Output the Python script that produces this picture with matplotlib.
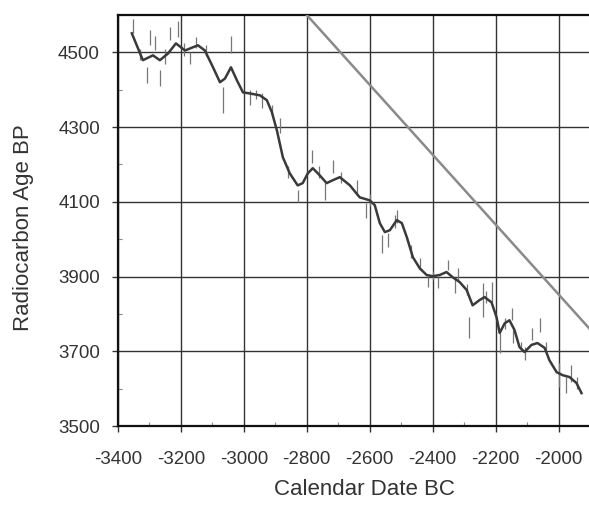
import matplotlib
matplotlib.use("Agg")
import matplotlib.pyplot as plt
from matplotlib.ticker import MultipleLocator

plt.rcParams['font.family'] = ['Liberation Sans', 'DejaVu Sans']

# Calibration curve (calendar year BC as negative, radiocarbon age BP)
curve_x = [-3356, -3321, -3289, -3267, -3241, -3216, -3187, -3146, -3124, -3098,
           -3076, -3060, -3041, -3022, -3003, -2981, -2949, -2927, -2911, -2895,
           -2876, -2854, -2829, -2813, -2797, -2781, -2759, -2737, -2717, -2695,
           -2663, -2632, -2600, -2584, -2568, -2552, -2536, -2514, -2498, -2482,
           -2463, -2441, -2419, -2400, -2378, -2356, -2336, -2314, -2292, -2273,
           -2251, -2235, -2213, -2197, -2187, -2171, -2156, -2140, -2124, -2108,
           -2086, -2067, -2044, -2029, -2006, -1987, -1965, -1943, -1927]
curve_y = [4551, 4479, 4492, 4479, 4497, 4524, 4505, 4519, 4505, 4460,
           4420, 4430, 4460, 4425, 4393, 4390, 4385, 4372, 4340, 4291,
           4219, 4176, 4144, 4150, 4176, 4190, 4171, 4150, 4158, 4166,
           4144, 4112, 4104, 4091, 4043, 4019, 4024, 4051, 4043, 4005,
           3952, 3922, 3904, 3901, 3904, 3912, 3898, 3885, 3864, 3823,
           3837, 3845, 3831, 3791, 3749, 3775, 3783, 3757, 3711, 3698,
           3717, 3722, 3709, 3676, 3644, 3636, 3631, 3615, 3588]

# Individual measurements: calendar year, lower and upper radiocarbon age
err_x = [-3353, -3298, -3283, -3308, -3267, -3235, -3210, -3171, -3152, -3067,
         -3041, -2981, -2943, -2886, -2829, -2784, -2743, -2717, -2641, -2613,
         -2562, -2543, -2514, -2441, -2416, -2384, -2352, -2330, -2321, -2283,
         -2241, -2213, -2187, -2149, -2146, -2108, -2083, -2060, -2000, -1975,
         -1959,
         -3330, -3250, -3190, -3120, -2960, -2910, -2860, -2760, -2690, -2600,
         -2520, -2470, -2400, -2290, -2230, -2170, -2120, -2040, -1940]
err_lo = [4553, 4520, 4505, 4417, 4410, 4532, 4540, 4470, 4513, 4337,
          4497, 4358, 4350, 4283, 4099, 4203, 4104, 4176, 4123, 4056,
          3962, 3978, 4043, 3917, 3872, 3869, 3917, 3856, 3890, 3735,
          3791, 3831, 3695, 3783, 3722, 3676, 3730, 3751, 3604, 3588,
          3618,
          4480, 4470, 4490, 4490, 4375, 4330, 4165, 4165, 4150, 4090,
          4030, 3950, 3890, 3850, 3830, 3760, 3700, 3700, 3600]
err_hi = [4590, 4560, 4545, 4460, 4452, 4567, 4585, 4500, 4540, 4407,
          4545, 4398, 4390, 4323, 4131, 4238, 4150, 4211, 4158, 4096,
          4010, 4016, 4078, 3949, 3898, 3898, 3944, 3896, 3922, 3791,
          3882, 3885, 3749, 3815, 3757, 3711, 3762, 3789, 3668, 3631,
          3663,
          4510, 4510, 4525, 4520, 4400, 4360, 4195, 4195, 4180, 4120,
          4065, 3985, 3915, 3880, 3860, 3790, 3725, 3725, 3630]

# Reference diagonal line
line_x = [-2800, -1900]
line_y = [4600, 3759]

x_ticks = [-3400, -3200, -3000, -2800, -2600, -2400, -2200, -2000]
y_ticks = [3500, 3700, 3900, 4100, 4300, 4500]

fig = plt.figure(figsize=(5.89, 5.11), dpi=100)
ax = fig.add_axes([118/589, (511-426)/511, 472/589, 411/511])

ax.set_xlim(-3400, -1900)
ax.set_ylim(3500, 4600)
ax.set_xticks(x_ticks)
ax.set_yticks(y_ticks)
ax.set_xticklabels([str(v) for v in x_ticks])
ax.set_yticklabels([str(v) for v in y_ticks])
ax.xaxis.set_minor_locator(MultipleLocator(100))
ax.yaxis.set_minor_locator(MultipleLocator(100))

ax.grid(True, which='major', color='#333333', linewidth=1.0)
ax.set_axisbelow(True)

ax.vlines(err_x, err_lo, err_hi, color='#777777', linewidth=0.9, zorder=2)
ax.plot(curve_x, curve_y, color='#3a3a3a', linewidth=1.8, zorder=3)
ax.plot(line_x, line_y, color='#8a8a8a', linewidth=1.8, zorder=3)

for s in ['left', 'bottom', 'top']:
    ax.spines[s].set_linewidth(1.6)
    ax.spines[s].set_color('#111111')
ax.spines['right'].set_visible(False)

ax.tick_params(axis='both', which='major', direction='out', length=4,
               width=1.0, color='#333333', labelsize=13.5, labelcolor='#333333')
ax.tick_params(axis='x', which='major', pad=14)
ax.tick_params(axis='y', which='major', pad=9)
ax.tick_params(axis='both', which='minor', direction='in', length=3,
               width=0.8, color='#888888')

ax.set_xlabel('Calendar Date BC', fontsize=16, color='#333333')
ax.set_ylabel('Radiocarbon Age BP', fontsize=16, color='#333333')
ax.xaxis.set_label_coords((364-118)/472, -(479-426)/411)
ax.yaxis.set_label_coords(-(118-34)/472, 1-(228-15)/411)

fig.savefig('out.png', dpi=100)
